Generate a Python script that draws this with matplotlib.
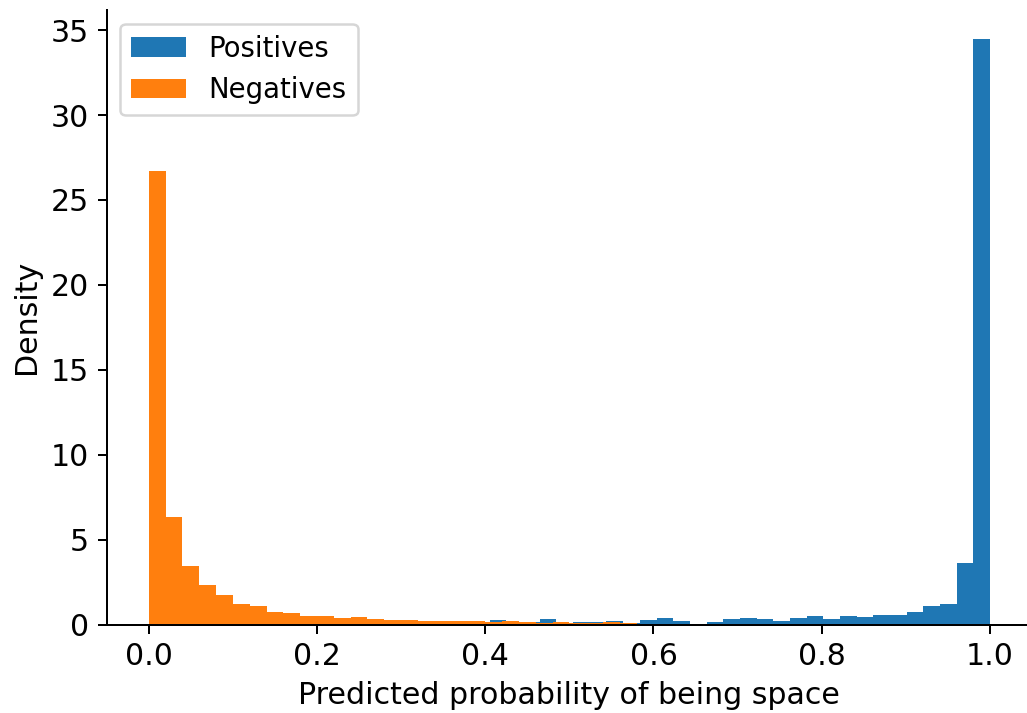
import numpy as np
import matplotlib.pyplot as plt

# densities, 50 bins each
pos_density = [0.20, 0.15, 0.15, 0.12, 0.12, 0.10, 0.10, 0.10, 0.12, 0.10,
               0.10, 0.10, 0.12, 0.10, 0.10, 0.10, 0.12, 0.10, 0.15, 0.12,
               0.26, 0.12, 0.12, 0.32, 0.10, 0.15, 0.15, 0.20, 0.06, 0.26,
               0.38, 0.20, 0.00, 0.15, 0.32, 0.38, 0.32, 0.20, 0.38, 0.50,
               0.32, 0.50, 0.44, 0.58, 0.58, 0.74, 1.10, 1.22, 3.62, 34.47]
neg_density = [26.68, 6.32, 3.44, 2.32, 1.74, 1.21, 1.09, 0.74, 0.68, 0.50,
               0.50, 0.38, 0.44, 0.32, 0.26, 0.26, 0.21, 0.20, 0.20, 0.20,
               0.15, 0.20, 0.15, 0.10, 0.15, 0.10, 0.10, 0.15, 0.09, 0.05,
               0.05, 0.05, 0.00, 0.04, 0.04, 0.04, 0.04, 0.00, 0.04, 0.04,
               0.04, 0.00, 0.00, 0.00, 0.00, 0.00, 0.04, 0.00, 0.04, 0.04]
pos_min, pos_max = 0.009, 1.0
neg_min, neg_max = 0.0, 1.0

pos_edges = np.linspace(pos_min, pos_max, len(pos_density) + 1)
neg_edges = np.linspace(neg_min, neg_max, len(neg_density) + 1)
pos_mid = (pos_edges[:-1] + pos_edges[1:]) / 2
neg_mid = (neg_edges[:-1] + neg_edges[1:]) / 2

plt.rcParams['font.size'] = 12
fig = plt.figure(figsize=(1027 / 180, 713 / 180), dpi=180)
ax = fig.add_axes([0.1039, 0.1241, 0.901, 0.862])
ax.hist(pos_mid, bins=pos_edges, weights=pos_density, label="Positives")
ax.hist(neg_mid, bins=neg_edges, weights=neg_density, label="Negatives")
ax.set_xlabel("Predicted probability of being space")
ax.set_ylabel("Density")
ax.spines["top"].set_visible(False)
ax.spines["right"].set_visible(False)
ax.legend(loc="upper left", fontsize=11)
fig.savefig("out.png", dpi=180)
